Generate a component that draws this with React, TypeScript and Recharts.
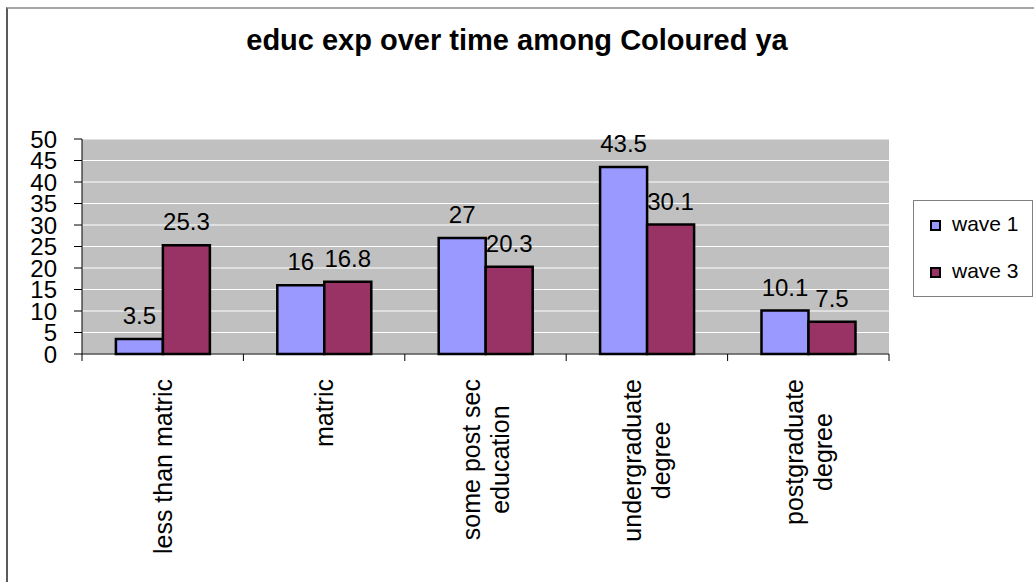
import { BarChart, Bar, XAxis, YAxis, CartesianGrid, Legend, LabelList } from "recharts";

// education expectations, % of respondents per wave
const categories = [
  "less than matric",
  "matric",
  "some post sec\neducation",
  "undergraduate\ndegree",
  "postgraduate\ndegree",
];
const wave1 = [3.5, 16, 27, 43.5, 10.1];
const wave3 = [25.3, 16.8, 20.3, 30.1, 7.5];
const yTicks = [0, 5, 10, 15, 20, 25, 30, 35, 40, 45, 50];

const data = categories.map((name, i) => ({ name, wave1: wave1[i], wave3: wave3[i] }));

const FONT = "'Liberation Sans', Arial, sans-serif";
const LABEL_SIZE = 25;

let measureCtx: CanvasRenderingContext2D | null = null;
function textWidth(s: string) {
  if (!measureCtx) {
    measureCtx = document.createElement("canvas").getContext("2d");
  }
  if (!measureCtx) return s.length * LABEL_SIZE * 0.5;
  measureCtx.font = `${LABEL_SIZE}px ${FONT}`;
  return measureCtx.measureText(s).width;
}

// vertical category labels, with tick marks on the category boundaries
function CategoryTick(props: any) {
  const { x, y, payload, index, visibleTicksCount, width } = props;
  const half = payload.offset || width / visibleTicksCount / 2;
  const lines: string[] = String(payload.value).split("\n");
  const longest = Math.max(...lines.map(textWidth));
  const top = y + 25;
  const cy = top + longest / 2;
  const lineGap = 29;
  return (
    <g>
      <line x1={x - half} x2={x - half} y1={y} y2={y + 7} stroke="#000" />
      {index === visibleTicksCount - 1 && (
        <line x1={x + half} x2={x + half} y1={y} y2={y + 7} stroke="#000" />
      )}
      {lines.map((line, i) => {
        const bx = x + 9 + (i - (lines.length - 1) / 2) * lineGap;
        return (
          <text
            key={i}
            x={bx}
            y={cy}
            transform={`rotate(-90, ${bx}, ${cy})`}
            textAnchor="middle"
            fontSize={LABEL_SIZE}
            fill="#000"
          >
            {line}
          </text>
        );
      })}
    </g>
  );
}

function LegendBox(props: any) {
  const items = props.payload || [];
  return (
    <div
      style={{
        width: 118,
        height: 95,
        border: "1px solid #808080",
        background: "#fff",
        position: "relative",
        fontFamily: FONT,
      }}
    >
      {items.map((it: any, i: number) => (
        <div
          key={it.value}
          style={{ position: "absolute", left: 16, top: 11 + i * 47, display: "flex", alignItems: "center" }}
        >
          <span
            style={{
              display: "inline-block",
              width: 7,
              height: 7,
              border: "2px solid #000",
              background: it.color,
              marginRight: 11,
              marginTop: 3,
            }}
          />
          <span style={{ fontSize: 21, lineHeight: "24px", color: "#000" }}>{it.value}</span>
        </div>
      ))}
    </div>
  );
}

export default function App() {
  return (
    <div
      style={{
        position: "absolute",
        left: 0,
        top: 0,
        width: 1034,
        height: 582,
        overflow: "hidden",
        background: "#fff",
        fontFamily: FONT,
      }}
    >
      <div
        style={{
          position: "absolute",
          left: 6,
          top: 7,
          width: 1100,
          height: 700,
          borderTop: "2px solid #a6a6a6",
          borderLeft: "2px solid #5a5a5a",
        }}
      />
      <div
        style={{
          position: "absolute",
          left: 0,
          top: 26,
          width: 1034,
          textAlign: "center",
          fontSize: 29,
          lineHeight: "29px",
          fontWeight: "bold",
          color: "#000",
        }}
      >
        educ exp over time among Coloured ya
      </div>
      <div style={{ position: "absolute", left: 0, top: 0 }}>
        <BarChart
          width={1034}
          height={582}
          data={data}
          margin={{ top: 139, right: 145, bottom: 0, left: 7 }}
          barCategoryGap="21%"
          barGap={0}
        >
          <CartesianGrid vertical={false} stroke="#ffffff" fill="#c0c0c0" fillOpacity={1} />
          <XAxis
            dataKey="name"
            height={228}
            interval={0}
            tickLine={false}
            tickSize={0}
            tickMargin={0}
            axisLine={{ stroke: "#000" }}
            tick={<CategoryTick />}
          />
          <YAxis
            width={75}
            domain={[0, 50]}
            ticks={yTicks}
            interval={0}
            tickSize={8}
            tickMargin={17}
            axisLine={{ stroke: "#000" }}
            tickLine={{ stroke: "#000" }}
            tick={{ fill: "#000", fontSize: 24 }}
          />
          <Legend
            layout="vertical"
            align="center"
            verticalAlign="middle"
            wrapperStyle={{ left: 913, top: 200, width: 120 }}
            content={<LegendBox />}
          />
          <Bar dataKey="wave1" name="wave 1" fill="#9999ff" stroke="#000" strokeWidth={2.5} isAnimationActive={false}>
            <LabelList dataKey="wave1" position="top" offset={15} fill="#000" fontSize={24} />
          </Bar>
          <Bar dataKey="wave3" name="wave 3" fill="#993366" stroke="#000" strokeWidth={2.5} isAnimationActive={false}>
            <LabelList dataKey="wave3" position="top" offset={15} fill="#000" fontSize={24} />
          </Bar>
        </BarChart>
      </div>
    </div>
  );
}
